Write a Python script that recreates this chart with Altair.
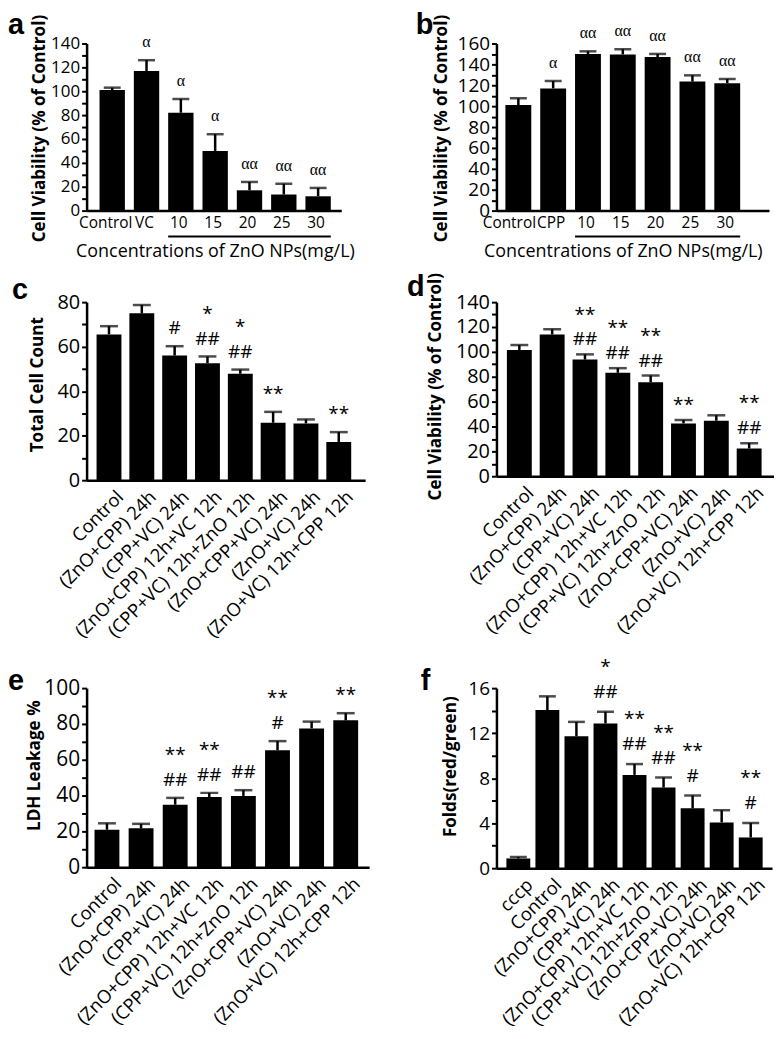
import altair as alt
import pandas as pd

SANS = "Open Sans"
SERIF = "Liberation Serif"

# ---------------- data ----------------
a_groups = ["Control", "VC", "10", "15", "20", "25", "30"]
a_values = [101, 117, 82, 50, 17, 13.5, 12]
a_errors = [2, 9, 11.5, 14, 7, 9, 7]
a_marks = ["", "α", "α", "α", "αα", "αα", "αα"]

b_groups = ["Control", "CPP", "10", "15", "20", "25", "30"]
b_values = [101, 117, 150, 149.5, 147, 123.5, 122]
b_errors = [6.5, 7, 2.5, 5, 3, 6, 4]
b_marks = ["", "α", "αα", "αα", "αα", "αα", "αα"]

treatments = ["Control", "(ZnO+CPP) 24h", "(CPP+VC) 24h", "(ZnO+CPP) 12h+VC 12h",
              "(CPP+VC) 12h+ZnO 12h", "(ZnO+CPP+VC) 24h", "(ZnO+VC) 24h",
              "(ZnO+VC) 12h+CPP 12h"]

c_values = [65.5, 75, 56, 52.6, 47.8, 25.8, 25.5, 17.2]
c_errors = [3.7, 3.7, 4.2, 3.0, 1.9, 4.9, 1.8, 4.4]
c_star = ["", "", "", "*", "*", "**", "", "**"]
c_hash = ["", "", "#", "##", "##", "", "", ""]

d_values = [101.5, 114, 93.8, 83.2, 75.5, 42.5, 44.6, 22.3]
d_errors = [4.0, 4.2, 4.2, 3.7, 5.5, 2.7, 4.4, 4.3]
d_star = ["", "", "**", "**", "**", "**", "", "**"]
d_hash = ["", "", "##", "##", "##", "", "", "##"]

e_values = [20.9, 21.7, 34.9, 39.2, 39.8, 65.3, 77.5, 82.0]
e_errors = [3.6, 2.5, 3.8, 2.3, 3.2, 5.1, 3.8, 4.0]
e_star = ["", "", "**", "**", "", "**", "", "**"]
e_hash = ["", "", "##", "##", "##", "#", "", ""]

f_groups = ["cccp"] + treatments
f_values = [0.87, 14.05, 11.72, 12.86, 8.29, 7.16, 5.32, 4.07, 2.73]
f_errors = [0.13, 1.22, 1.28, 1.04, 0.96, 0.90, 1.14, 1.08, 1.28]
f_star = ["", "", "", "*", "**", "**", "**", "", "**"]
f_hash = ["", "", "", "##", "##", "##", "#", "", "#"]

x_title_ab = "Concentrations of ZnO NPs(mg/L)"


def stack_marks(star, hsh):
    lower = [h if h else s for s, h in zip(star, hsh)]
    upper = [s if h else "" for s, h in zip(star, hsh)]
    return upper, lower


def panel(letter, groups, values, errors, upper, lower, *, width, height, ymax,
          minor, major, ytitle, ytick_size, title_x, title_y, band, letter_xy,
          rotated, ann_dy, ann_font, ann_size, cap, xtitle_x=None,
          first_offset=-3, other_offset=-3):
    df = pd.DataFrame({"group": groups, "value": values, "err": errors,
                       "upper": upper, "lower": lower})
    df["top"] = df["value"] + df["err"]
    pi, po, al = band
    xscale = alt.Scale(domain=groups, paddingInner=pi, paddingOuter=po, align=al)
    xkw = dict(labelFont=SANS, labelColor="black", labelLimit=400, ticks=False,
               tickSize=0, domainColor="black", domainWidth=2.5, grid=False)
    if rotated:
        xaxis = alt.Axis(title=None, labelAngle=-45, labelAlign="right",
                         labelBaseline="top", labelFontSize=18.5, labelPadding=7,
                         labelOffset=5, **xkw)
    else:
        xaxis = alt.Axis(title=x_title_ab, labelAngle=0, labelAlign="center",
                         labelBaseline="top", labelFontSize=15.5, labelPadding=5,
                         labelOffset={"condition": {"test": "datum.value == 'Control'",
                                                    "value": first_offset},
                                      "value": other_offset},
                         titleX=xtitle_x, titleY=41, titleBaseline="middle",
                         titleFont=SANS, titleFontSize=18, titleFontWeight="normal",
                         titleColor="black", **xkw)
    ticks = []
    v = 0
    while v <= ymax + 1e-9:
        ticks.append(v)
        v += minor
    yaxis = alt.Axis(values=ticks,
                     labelExpr=f"datum.value % {major} == 0 ? datum.label : ''",
                     title=ytitle, titleFont=SANS, titleFontSize=17.2,
                     titleFontWeight="bold", titleColor="black", titleX=title_x,
                     titleY=title_y, titleBaseline="middle",
                     labelFont=SANS, labelFontSize=ytick_size, labelColor="black",
                     labelPadding=2, tickColor="black", tickWidth=2, tickSize=5,
                     domainColor="black", domainWidth=2.5, grid=False)
    yscale = alt.Scale(domain=[0, ymax], nice=False)
    x = alt.X("group:N", scale=xscale, axis=xaxis)
    base = alt.Chart(df)
    bars = base.mark_bar(color="black").encode(
        x=x, y=alt.Y("value:Q", scale=yscale, axis=yaxis))
    rule = base.mark_rule(color="black", strokeWidth=2.5).encode(
        x=x, y=alt.Y("value:Q", scale=yscale, axis=yaxis), y2="top:Q")
    capm = base.mark_tick(color="black", thickness=2.5, size=cap).encode(
        x=x, y=alt.Y("top:Q", scale=yscale, axis=yaxis))
    low = base.transform_filter("datum.lower != ''").mark_text(
        font=ann_font, fontSize=ann_size, baseline="alphabetic",
        dy=ann_dy, color="black").encode(
        x=x, y=alt.Y("top:Q", scale=yscale, axis=yaxis), text="lower:N")
    layers = [bars, rule, capm, low]
    if any(upper):
        up = base.transform_filter("datum.upper != ''").mark_text(
            font=ann_font, fontSize=ann_size, baseline="alphabetic",
            dy=ann_dy - 25, color="black").encode(
            x=x, y=alt.Y("top:Q", scale=yscale, axis=yaxis), text="upper:N")
        layers.append(up)
    lab = alt.Chart(pd.DataFrame({"label": [letter]})).mark_text(
        font="Liberation Sans", fontSize=29, fontWeight="bold", align="left",
        baseline="alphabetic", color="black").encode(
        x=alt.value(letter_xy[0]), y=alt.value(letter_xy[1]), text="label:N")
    layers.append(lab)
    if not rotated:
        ul = alt.Chart(pd.DataFrame({"start": [groups[2]], "end": [groups[-1]]})).mark_rule(
            color="black", strokeWidth=2).encode(
            x=alt.X("start:N", scale=xscale, axis=xaxis, bandPosition=0),
            x2=alt.X2("end", bandPosition=1),
            y=alt.value(height + 26))
        layers.append(ul)
    return alt.layer(*layers).properties(width=width, height=height)


empty_u = [""] * 7
pa = panel("a", a_groups, a_values, a_errors, empty_u, a_marks, width=256, height=168,
           ymax=140, minor=10, major=20, ytitle="Cell Viability (% of Control)",
           ytick_size=17, title_x=-47.5, title_y=85, band=(0.261, 0.341, 0.553),
           letter_xy=(-79, -10), rotated=False, ann_dy=-13, ann_font=SERIF,
           ann_size=16, cap=17, xtitle_x=129, first_offset=-6.5, other_offset=-2)
pb = panel("b", b_groups, b_values, b_errors, empty_u, b_marks, width=274, height=168,
           ymax=160, minor=10, major=20, ytitle="Cell Viability (% of Control)",
           ytick_size=19, title_x=-55, title_y=85, band=(0.257, 0.543, 0.237),
           letter_xy=(-81, -10), rotated=False, ann_dy=-13, ann_font=SERIF,
           ann_size=16, cap=17, xtitle_x=127, first_offset=-9, other_offset=-2)

cu, cl = stack_marks(c_star, c_hash)
pc = panel("c", treatments, c_values, c_errors, cu, cl, width=280, height=179,
           ymax=80, minor=10, major=20, ytitle="Total Cell Count", ytick_size=20,
           title_x=-49.5, title_y=82.5, band=(0.242, 0.364, 0.417),
           letter_xy=(-75, -3), rotated=True, ann_dy=-12, ann_font=SANS,
           ann_size=19, cap=18)
du, dl = stack_marks(d_star, d_hash)
pd_ = panel("d", treatments, d_values, d_errors, du, dl, width=279, height=175,
            ymax=140, minor=10, major=20, ytitle="Cell Viability (% of Control)",
            ytick_size=20, title_x=-61, title_y=84.5, band=(0.242, 0.348, 0.457),
            letter_xy=(-90, -6), rotated=True, ann_dy=-9, ann_font=SANS,
            ann_size=19, cap=18)
eu, el = stack_marks(e_star, e_hash)
pe = panel("e", treatments, e_values, e_errors, eu, el, width=284, height=180,
           ymax=100, minor=10, major=20, ytitle="LDH Leakage %", ytick_size=21,
           title_x=-52, title_y=77.5, band=(0.271, 0.277, 0.42),
           letter_xy=(-79, 2), rotated=True, ann_dy=-12, ann_font=SANS,
           ann_size=19, cap=18)
fu, fl = stack_marks(f_star, f_hash)
pf = panel("f", f_groups, f_values, f_errors, fu, fl, width=277, height=181,
           ymax=16, minor=2, major=4, ytitle="Folds(red/green)", ytick_size=19,
           title_x=-46, title_y=78.5, band=(0.178, 0.332, 0.515),
           letter_xy=(-76, 2), rotated=True, ann_dy=-14, ann_font=SANS,
           ann_size=19, cap=17)


def spacer():
    return alt.Chart(pd.DataFrame({"v": [0]})).mark_point(opacity=0).encode(
        x=alt.value(0), y=alt.value(0)).properties(width=10, height=25)


chart = alt.concat(pa, pb, pc, pd_, spacer(), spacer(), pe, pf, columns=2,
                   spacing={"row": 92, "column": 128}, bounds="flush",
                   align="each").properties(
    padding={"left": 0, "top": 0, "right": 0, "bottom": 0}
).configure_view(strokeWidth=0)

chart.save("out.html", embed_options={"renderer": "svg", "actions": False})
